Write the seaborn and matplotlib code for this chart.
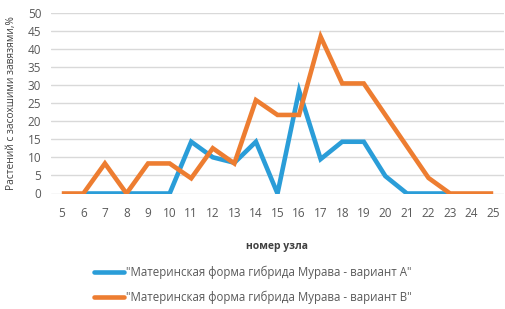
import matplotlib
matplotlib.use("Agg")
import matplotlib.pyplot as plt
from matplotlib.lines import Line2D
import seaborn as sns
import pandas as pd

sns.set_theme(style="white")
plt.rcParams['font.family'] = ['Open Sans', 'DejaVu Sans']

series_a = '"Материнская форма гибрида Мурава - вариант А"'
series_b = '"Материнская форма гибрида Мурава - вариант В"'

nodes_a = [6, 7, 8, 9, 10, 11, 12, 13, 14, 15, 16, 17, 18, 19, 20, 21, 22, 23]
values_a = [0, 0, 0, 0, 0, 14.3, 10, 8.5, 14.3, 0, 28.4, 9.5, 14.3, 14.3, 4.8, 0, 0, 0]

nodes_b = [5, 6, 7, 8, 9, 10, 11, 12, 13, 14, 15, 16, 17, 18, 19, 20, 21, 22, 23, 24, 25]
values_b = [0, 0, 8.3, 0, 8.3, 8.3, 4.2, 12.5, 8.3, 25.8, 21.7, 21.7, 43.3, 30.4, 30.4, 21.7, 13.0, 4.3, 0, 0, 0]

x_ticks = list(range(5, 26))
y_ticks = list(range(0, 51, 5))

df = pd.concat([
    pd.DataFrame({"node": nodes_a, "value": values_a, "series": series_a}),
    pd.DataFrame({"node": nodes_b, "value": values_b, "series": series_b}),
])

fig = plt.figure(figsize=(5.05, 3.09), dpi=100)
ax = fig.add_axes([51 / 505, 1 - 193.5 / 309, (504 - 51) / 505, (193.5 - 12.5) / 309])

palette = {series_a: "#2A9DD8", series_b: "#ED7D31"}
sns.lineplot(data=df, x="node", y="value", hue="series", palette=palette,
             linewidth=3.3, ax=ax, legend=False, sort=False, estimator=None,
             solid_capstyle="butt", solid_joinstyle="miter")

ax.set_xlim(4.5, 25.5)
ax.set_ylim(0, 50)
ax.set_xticks(x_ticks)
ax.set_xticklabels([str(t) for t in x_ticks])
ax.set_yticks(y_ticks)
ax.yaxis.grid(True, color="#D9D9D9", linewidth=1)
ax.set_axisbelow(True)
for s in ax.spines.values():
    s.set_visible(False)
ax.tick_params(axis="both", length=0, labelsize=8.5, colors="#595959")
ax.tick_params(axis="y", pad=7)
ax.tick_params(axis="x", pad=10)

ax.set_xlabel("номер узла", fontsize=7.5, fontweight="bold", color="#404040", labelpad=15)
ax.set_ylabel("Растений с засохшими завязями,%", fontsize=7.3, color="#404040", labelpad=8)

handles = [Line2D([], [], color=palette[series_a], linewidth=3.3),
           Line2D([], [], color=palette[series_b], linewidth=3.3)]
fig.legend(handles, [series_a, series_b], loc="upper center",
           bbox_to_anchor=(0.5, 1 - 255.5 / 309), frameon=False, fontsize=8.3,
           handlelength=2.6, handletextpad=0.2, labelspacing=1.0,
           labelcolor="#595959")

fig.savefig("out.png", dpi=100)
